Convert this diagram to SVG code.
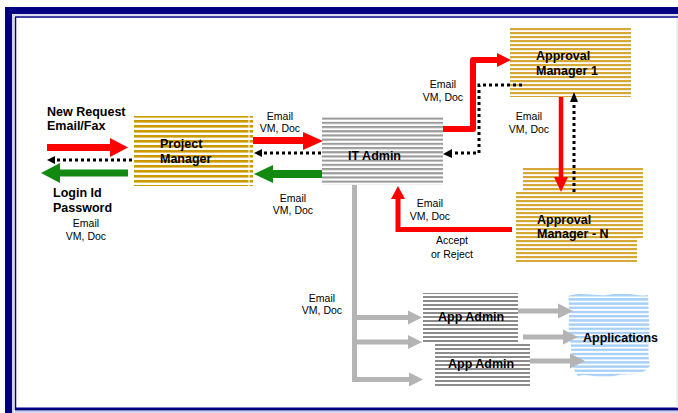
<svg xmlns="http://www.w3.org/2000/svg" width="678" height="413" viewBox="0 0 678 413">
<defs>
<pattern id="pGold" width="8" height="5" patternUnits="userSpaceOnUse"><rect width="8" height="2.6" fill="#cc9900"/></pattern>
<pattern id="pGold2" width="8" height="4" patternUnits="userSpaceOnUse"><rect width="8" height="2.2" fill="#d6a838"/></pattern>
<pattern id="pGray" width="8" height="4.2" patternUnits="userSpaceOnUse"><rect width="8" height="2.1" fill="#9a9a9a"/></pattern>
<pattern id="pGray2" width="8" height="4" patternUnits="userSpaceOnUse"><rect width="8" height="2" fill="#8c8c8c"/></pattern>
<pattern id="pBlue" width="8" height="4.2" patternUnits="userSpaceOnUse"><rect width="8" height="2.4" fill="#a6d0f8"/></pattern>
<style>
.t{font-family:"Liberation Sans",Arial,sans-serif;font-weight:bold;font-size:12.5px;fill:#000}
.s{font-family:"Liberation Sans",Arial,sans-serif;font-size:10.5px;fill:#000}
.red{stroke:#ff0000;fill:none}
.grn{stroke:#128a12;fill:none}
.dot{stroke:#000;fill:none;stroke-width:3;stroke-dasharray:3 3}
.gry{stroke:#b4b4b4;fill:none;stroke-width:5}
.hr{fill:#ff0000}.hg{fill:#128a12}.hk{fill:#000}.hy{fill:#b4b4b4}
</style>
</defs>
<rect width="678" height="413" fill="#fff"/>
<g id="frame">
<rect x="5" y="7" width="673" height="7" fill="#000080"/>
<rect x="5" y="7" width="7" height="406" fill="#000080"/>
<line x1="13" y1="15" x2="678" y2="15" stroke="#b8b8e0" stroke-width="1.2"/>
<line x1="13" y1="15" x2="13" y2="413" stroke="#b8b8e0" stroke-width="1.2"/>
<line x1="15" y1="17" x2="678" y2="17" stroke="#000080" stroke-width="1.5"/>
<line x1="15.5" y1="17" x2="15.5" y2="410" stroke="#000080" stroke-width="1.5"/>
<line x1="15" y1="409" x2="678" y2="409" stroke="#000080" stroke-width="3"/>
<line x1="15" y1="411.8" x2="678" y2="411.8" stroke="#b8b8e0" stroke-width="1.2"/>
<line x1="677" y1="18" x2="677" y2="408" stroke="#e0e0f0" stroke-width="1"/>
</g>
<g id="project-manager">
<rect x="134" y="116" width="119" height="70" fill="url(#pGold)"/>
<line x1="249" y1="116" x2="249" y2="186" stroke="#fff" stroke-width="1"/>
<text class="t" x="160" y="148">Project</text>
<text class="t" x="160" y="163">Manager</text>
</g>
<g id="it-admin">
<rect x="322" y="116" width="121" height="69" fill="url(#pGray)"/>
<text class="t" x="348" y="160">IT Admin</text>
</g>
<g id="approval-manager-1">
<rect x="510" y="28" width="121" height="69" fill="url(#pGold2)"/>
<text class="t" x="536" y="60">Approval</text>
<text class="t" x="536" y="75">Manager 1</text>
</g>
<g id="approval-manager-n">
<rect x="523" y="168" width="120" height="70" fill="url(#pGold2)"/>
<rect x="516" y="192" width="121" height="70" fill="#fff"/>
<rect x="516" y="192" width="121" height="70" fill="url(#pGold2)"/>
<text class="t" x="537" y="224">Approval</text>
<text class="t" x="537" y="238">Manager - N</text>
</g>
<g id="app-admin-1">
<rect x="423" y="293" width="95" height="49" fill="url(#pGray2)"/>
<text class="t" x="438" y="321">App Admin</text>
</g>
<g id="app-admin-2">
<rect x="435" y="344" width="95" height="43" fill="url(#pGray2)"/>
<text class="t" x="448" y="368">App Admin</text>
</g>
<g id="applications">
<path d="M568,296 C583,291 598,298 613,294 C626,291 639,297 648,295 L649,320 C651,335 646,350 650,366 C640,379 626,371 612,377 C600,381 590,372 578,376 C570,368 573,355 570,340 C567,325 571,310 568,296 Z" fill="url(#pBlue)"/>
<text class="t" x="583" y="342">Applications</text>
</g>
<g id="connectors">
<line class="red" x1="47" y1="147.5" x2="111" y2="147.5" stroke-width="7"/>
<polygon class="hr" points="110,138 128,147.5 110,157"/>
<line class="dot" x1="132" y1="160" x2="55" y2="160"/>
<polygon class="hk" points="55,156 47,160 55,164"/>
<line class="grn" x1="128" y1="173" x2="59" y2="173" stroke-width="7"/>
<polygon class="hg" points="60,163 41,173 60,183"/>

<line class="red" x1="253" y1="140.5" x2="304" y2="140.5" stroke-width="7"/>
<polygon class="hr" points="303,132 323,141 303,150"/>
<line class="dot" x1="321" y1="153" x2="262" y2="153"/>
<polygon class="hk" points="262,149 254,153 262,157"/>
<line class="grn" x1="322" y1="174" x2="272" y2="174" stroke-width="8"/>
<polygon class="hg" points="273,165 254,174 273,183"/>

<path class="red" d="M443,129 H473 V60 H498" stroke-width="6" stroke-linejoin="round"/>
<polygon class="hr" points="497,53 511,60 497,67"/>
<path class="dot" d="M522,85 H479 V153 H451"/>
<polygon class="hk" points="452,149 443,154 452,158"/>

<line class="red" x1="561" y1="97" x2="561" y2="178" stroke-width="4.5"/>
<polygon class="hr" points="554,177 561,192 568,177"/>
<line class="dot" x1="574" y1="192" x2="574" y2="101"/>
<polygon class="hk" points="570,102 574,92 578,102"/>

<path class="red" d="M512,229.5 H398 V198" stroke-width="5"/>
<polygon class="hr" points="391,199 398,186 405,199"/>

<path class="gry" d="M354.5,185 V382"/>
<line class="gry" x1="354" y1="317.5" x2="409" y2="317.5"/>
<polygon class="hy" points="408,310.5 422,317.5 408,324.5"/>
<line class="gry" x1="354" y1="342" x2="409" y2="342"/>
<polygon class="hy" points="408,335 422,342 408,349"/>
<line class="gry" x1="354" y1="379.5" x2="410" y2="379.5"/>
<polygon class="hy" points="409,372.5 423,379.5 409,386.5"/>

<line class="gry" x1="518" y1="311" x2="559" y2="311"/>
<polygon class="hy" points="558,303.5 573,311 558,318.5"/>
<line class="gry" x1="523" y1="337" x2="564" y2="337"/>
<polygon class="hy" points="563,329.5 578,337 563,344.5"/>
<line class="gry" x1="530" y1="361" x2="571" y2="361"/>
<polygon class="hy" points="570,353.5 585,361 570,368.5"/>
</g>
<g id="labels">
<text class="t" x="47" y="116">New Request</text>
<text class="t" x="47" y="130">Email/Fax</text>
<text class="t" x="53" y="197">Login Id</text>
<text class="t" x="53" y="212">Password</text>
<text class="s" x="86" y="227" text-anchor="middle">Email</text>
<text class="s" x="86" y="240" text-anchor="middle">VM, Doc</text>
<text class="s" x="280" y="120" text-anchor="middle">Email</text>
<text class="s" x="280" y="132" text-anchor="middle">VM, Doc</text>
<text class="s" x="293" y="202" text-anchor="middle">Email</text>
<text class="s" x="293" y="214" text-anchor="middle">VM, Doc</text>
<text class="s" x="443" y="88" text-anchor="middle">Email</text>
<text class="s" x="443" y="101" text-anchor="middle">VM, Doc</text>
<text class="s" x="529" y="120" text-anchor="middle">Email</text>
<text class="s" x="529" y="133" text-anchor="middle">VM, Doc</text>
<text class="s" x="430" y="207" text-anchor="middle">Email</text>
<text class="s" x="430" y="220" text-anchor="middle">VM, Doc</text>
<text class="s" x="452" y="244" text-anchor="middle">Accept</text>
<text class="s" x="452" y="258" text-anchor="middle">or Reject</text>
<text class="s" x="322" y="302" text-anchor="middle">Email</text>
<text class="s" x="322" y="314" text-anchor="middle">VM, Doc</text>
</g>
</svg>
